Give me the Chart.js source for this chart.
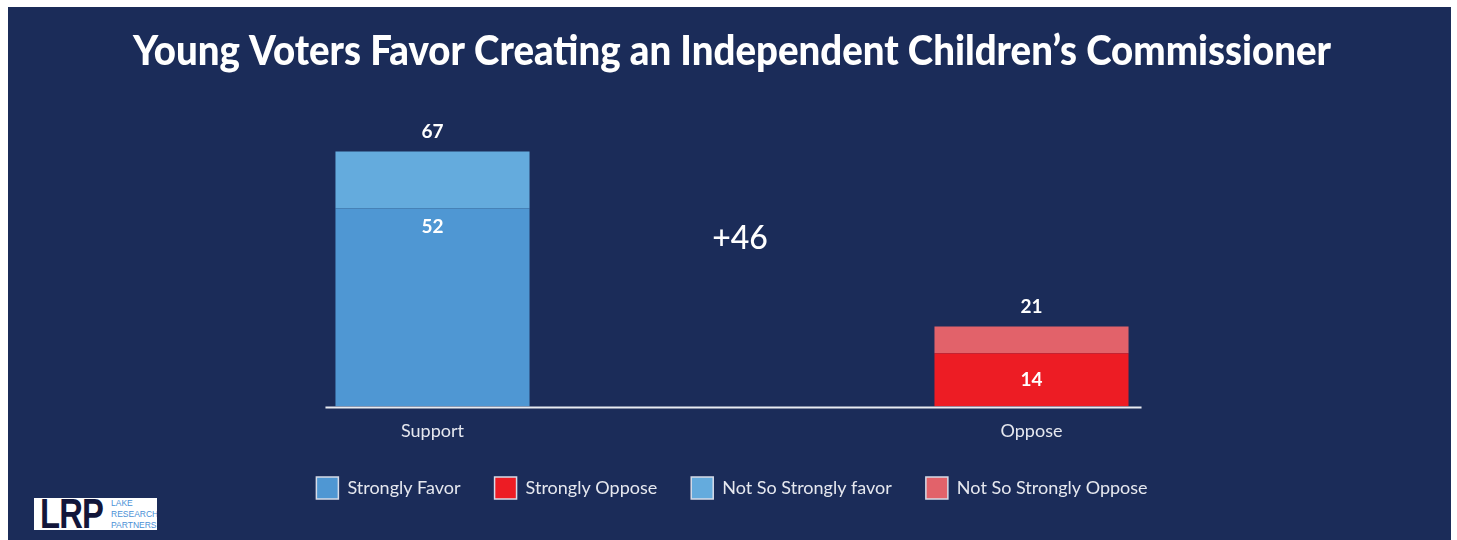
<!DOCTYPE html>
<html>
<head>
<meta charset="utf-8">
<script src="https://cdn.jsdelivr.net/npm/chart.js@4/dist/chart.umd.min.js"></script>
<style>
  html, body { margin: 0; padding: 0; background: #ffffff; }
  #panel { position: absolute; left: 8px; top: 7px; width: 1443px; height: 533px; background: #1b2c59; }
  #panel canvas { display: block; }
  #logo { position: absolute; left: 34px; top: 498px; width: 123px; height: 32px; background: #ffffff; font-family: "Liberation Sans", Arial, sans-serif; overflow: hidden; }
  #logo .big { position: absolute; left: 6px; top: -5px; font-size: 42px; line-height: 42px; font-weight: bold; color: #12163a; letter-spacing: -1px; transform: scaleX(0.78); transform-origin: left top; }
  #logo .small { position: absolute; left: 77px; top: 0px; font-size: 8.5px; line-height: 11px; color: #4a90d6; }
</style>
</head>
<body>
<div id="panel"><canvas id="myChart" width="1443" height="533"></canvas></div>
<div id="logo"><span class="big">LRP</span><span class="small">LAKE<br>RESEARCH<br>PARTNERS</span></div>
<script>
// values
const categories = ['Support', 'Oppose']
const strongFavor = [52, null]
const strongOppose = [null, 14]
const notSoFavor = [15, null]
const notSoOppose = [null, 7]

const COLORS = {
  strongFavor: '#4f97d3',
  strongOppose: '#ed1c24',
  notSoFavor: '#64abdd',
  notSoOppose: '#e2626a'
}

const labelFont = '"Lato", "Open Sans", sans-serif'

// totals, margin label and baseline drawn from the bar elements
const barLabels = {
  id: 'barLabels',
  afterDatasetsDraw(chart) {
    const ctx = chart.ctx
    const yScale = chart.scales.y
    const metas = chart.data.datasets.map((d, i) => chart.getDatasetMeta(i))
    const totals = []
    const bars = []
    ctx.save()
    ctx.fillStyle = '#ffffff'
    ctx.textAlign = 'center'
    ctx.textBaseline = 'middle'
    for (let i = 0; i < categories.length; i++) {
      let total = 0
      let strongEl = null, strongVal = 0
      for (let d = 0; d < chart.data.datasets.length; d++) {
        let v = chart.data.datasets[d].data[i]
        if (v == null) continue
        total += v
        if (d < 2) { strongEl = metas[d].data[i]; strongVal = v }
      }
      totals.push(total)
      bars.push(strongEl)
      ctx.font = 'bold 19px ' + labelFont
      // total above the bar
      ctx.fillText(String(total), strongEl.x, yScale.getPixelForValue(total) - 20)
      // strong value inside the lower segment
      let top = strongEl.y, h = strongEl.base - strongEl.y
      let ly = h > 80 ? top + 18 : top + h / 2
      ctx.fillText(String(strongVal), strongEl.x, ly)
    }
    // margin between the two totals
    let diff = totals[0] - totals[1]
    ctx.font = '500 32px ' + labelFont
    let mx = (bars[0].x + bars[1].x) / 2 + 8
    ctx.fillText((diff > 0 ? '+' : '') + diff, mx, yScale.getPixelForValue((totals[0] + totals[1]) / 2))
    // baseline
    let y0 = yScale.getPixelForValue(0)
    ctx.strokeStyle = '#e9ebf1'
    ctx.lineWidth = 2
    ctx.beginPath()
    ctx.moveTo(bars[0].x - bars[0].width / 2 - 10, y0 + 1)
    ctx.lineTo(bars[1].x + bars[1].width / 2 + 13, y0 + 1)
    ctx.stroke()
    ctx.restore()
  }
}

const data = {
  labels: categories,
  datasets: [
    { label: 'Strongly Favor', data: strongFavor, backgroundColor: COLORS.strongFavor },
    { label: 'Strongly Oppose', data: strongOppose, backgroundColor: COLORS.strongOppose },
    { label: 'Not So Strongly favor', data: notSoFavor, backgroundColor: COLORS.notSoFavor },
    { label: 'Not So Strongly Oppose', data: notSoOppose, backgroundColor: COLORS.notSoOppose }
  ]
}

const config = {
  type: 'bar',
  data: data,
  plugins: [barLabels],
  options: {
    responsive: false,
    animation: false,
    layout: { padding: { left: 125, right: 120, bottom: 31 } },
    datasets: {
      bar: { barPercentage: 0.324, categoryPercentage: 1, skipNull: false, borderWidth: 0 }
    },
    scales: {
      x: {
        stacked: true,
        grid: { display: false, tickLength: 13 },
        border: { display: false },
        ticks: { color: '#e6e8ef', padding: 1, font: { family: labelFont, size: 18 } }
      },
      y: {
        stacked: true,
        display: false,
        min: 0,
        max: 76
      }
    },
    plugins: {
      title: {
        display: true,
        text: 'Young Voters Favor Creating an Independent Children\u2019s Commissioner',
        color: '#ffffff',
        font: { family: labelFont, size: 41, weight: 900 },
        padding: { top: 20, bottom: 41 }
      },
      legend: {
        position: 'bottom',
        labels: {
          color: '#e6e8ef',
          boxWidth: 22,
          boxHeight: 22,
          padding: 34,
          font: { family: labelFont, size: 18 },
          generateLabels(chart) {
            return chart.data.datasets.map((d, i) => ({
              text: d.label,
              fillStyle: d.backgroundColor,
              strokeStyle: '#d6dbe8',
              lineWidth: 1.5,
              fontColor: '#e6e8ef',
              hidden: false,
              datasetIndex: i
            }))
          }
        }
      },
      tooltip: { enabled: false }
    }
  }
}

const myChart = new Chart(document.getElementById('myChart'), config)
</script>
</body>
</html>
